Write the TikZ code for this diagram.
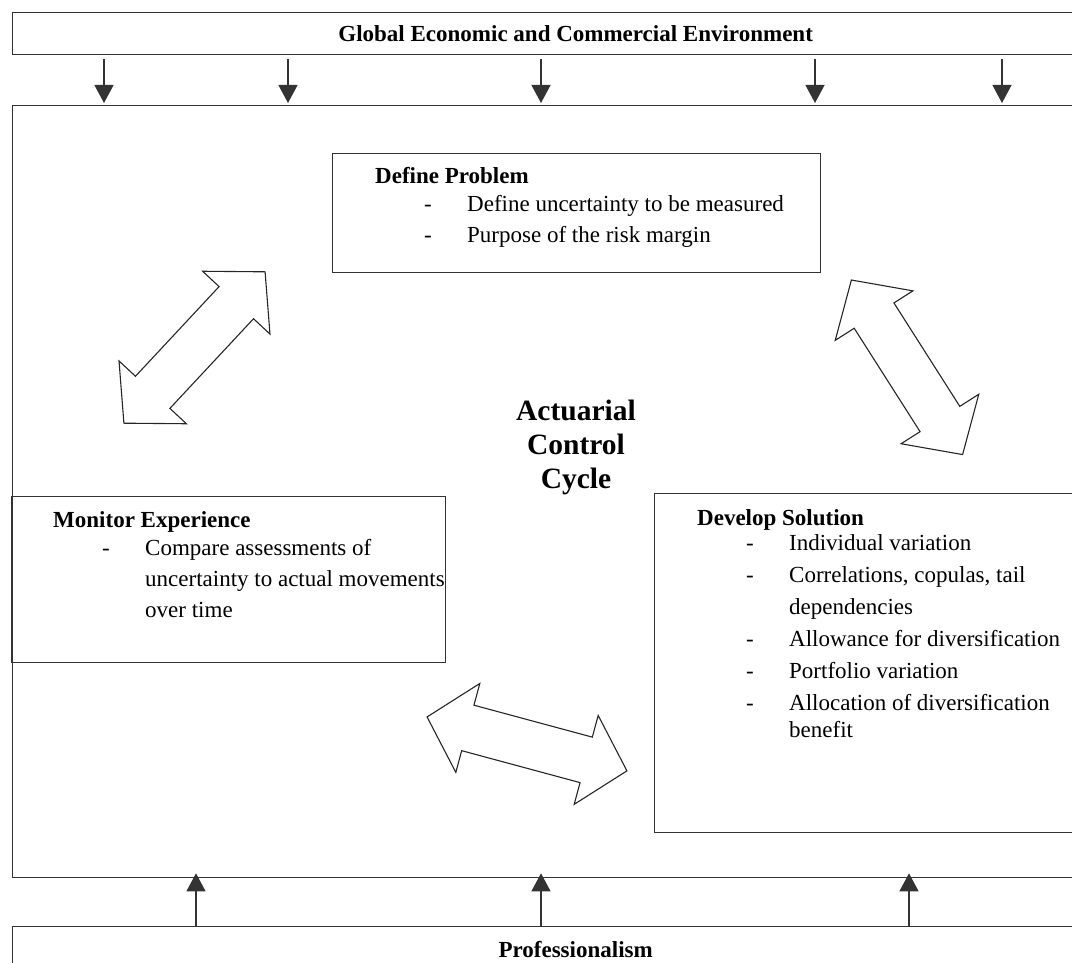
\documentclass[tikz,border=0pt]{standalone}
\usepackage{fontspec}
\setmainfont{Liberation Serif}
\usetikzlibrary{arrows.meta, shapes.arrows, positioning}
\newcommand\itm[1]{\hspace*{49pt}\makebox[43pt][l]{-}#1}
\newcommand\cnt[1]{\hspace*{92pt}#1}

\begin{document}
\begin{tikzpicture}[x=1pt, y=1pt, >={Triangle[length=18pt,width=19pt]},
  frame/.style={draw=black!80, line width=1.3pt, inner sep=0pt, anchor=north west},
  body/.style={anchor=north west, inner sep=0pt, align=left, font=\fontsize{23}{32}\selectfont},
  head/.style={font=\bfseries\fontsize{23}{28}\selectfont},
  flow/.style={->, draw=black!80, line width=1.2pt},
  cyclearrow/.style={draw=black!85, line width=1.1pt, shape=double arrow,
    double arrow head extend=22.5pt, double arrow tip angle=95,
    minimum height=207pt, inner xsep=0pt, inner ysep=23pt}]
\useasboundingbox (0,0) rectangle (1072,-963);
\clip (0,0) rectangle (1072,-963);

% outer frames
\node[frame, head, minimum width=1126pt, minimum height=42pt] (env) at (12,-12) {Global Economic and Commercial Environment};
\node[frame, minimum width=1126pt, minimum height=772pt] (acc) at (12,-105) {};
\node[frame, head, minimum width=1126pt, minimum height=46pt] (prof) at (12,-926) {Professionalism};

\foreach \x in {92,276,529,803,990}
  \draw[flow] ([xshift=\x, yshift=-4]env.south west) -- ([xshift=\x, yshift=2]acc.north west);
\foreach \x in {184,529,897}
  \draw[flow] ([xshift=\x]prof.north west) -- ([xshift=\x, yshift=5]acc.south west);

% the three stages
\node[frame, minimum width=488pt, minimum height=119pt] (def) at (332,-153) {};
\node[frame, minimum width=434pt, minimum height=166pt] (mon) at (11,-496) {};
\node[frame, minimum width=484pt, minimum height=339pt] (dev) at (654,-492.5) {};

\node[body] (deftxt) at ([shift={(43,-14)}]def.north west) {\textbf{Define Problem}\\[-4pt]
  \itm{Define uncertainty to be measured}\\[-1pt]
  \itm{Purpose of the risk margin}};
\node[body] (montxt) at ([shift={(42,-15)}]mon.north west) {\textbf{Monitor Experience}\\[-4pt]
  \itm{Compare assessments of}\\[-1pt]
  \cnt{uncertainty to actual movements}\\[-1pt]
  \cnt{over time}};
\node[body] (devtxt) at ([shift={(43,-17)}]dev.north west) {\textbf{Develop Solution}\\[-7pt]
  \itm{Individual variation}\\
  \itm{Correlations, copulas, tail}\\
  \cnt{dependencies}\\
  \itm{Allowance for diversification}\\
  \itm{Portfolio variation}\\
  \itm{Allocation of diversification}\\[-5pt]
  \cnt{benefit}};

\node[font=\bfseries\fontsize{29.5}{34}\selectfont, align=center] (cycle) at (576,-447) {Actuarial\\Control\\Cycle};

% links between stages
\node[cyclearrow, rotate=47] (mondef) at (194.5,-347.5) {};
\node[cyclearrow, rotate=-57.5] (defdev) at (907,-367.3) {};
\node[cyclearrow, rotate=-15.1] (devmon) at (527,-743.9) {};
\end{tikzpicture}
\end{document}
